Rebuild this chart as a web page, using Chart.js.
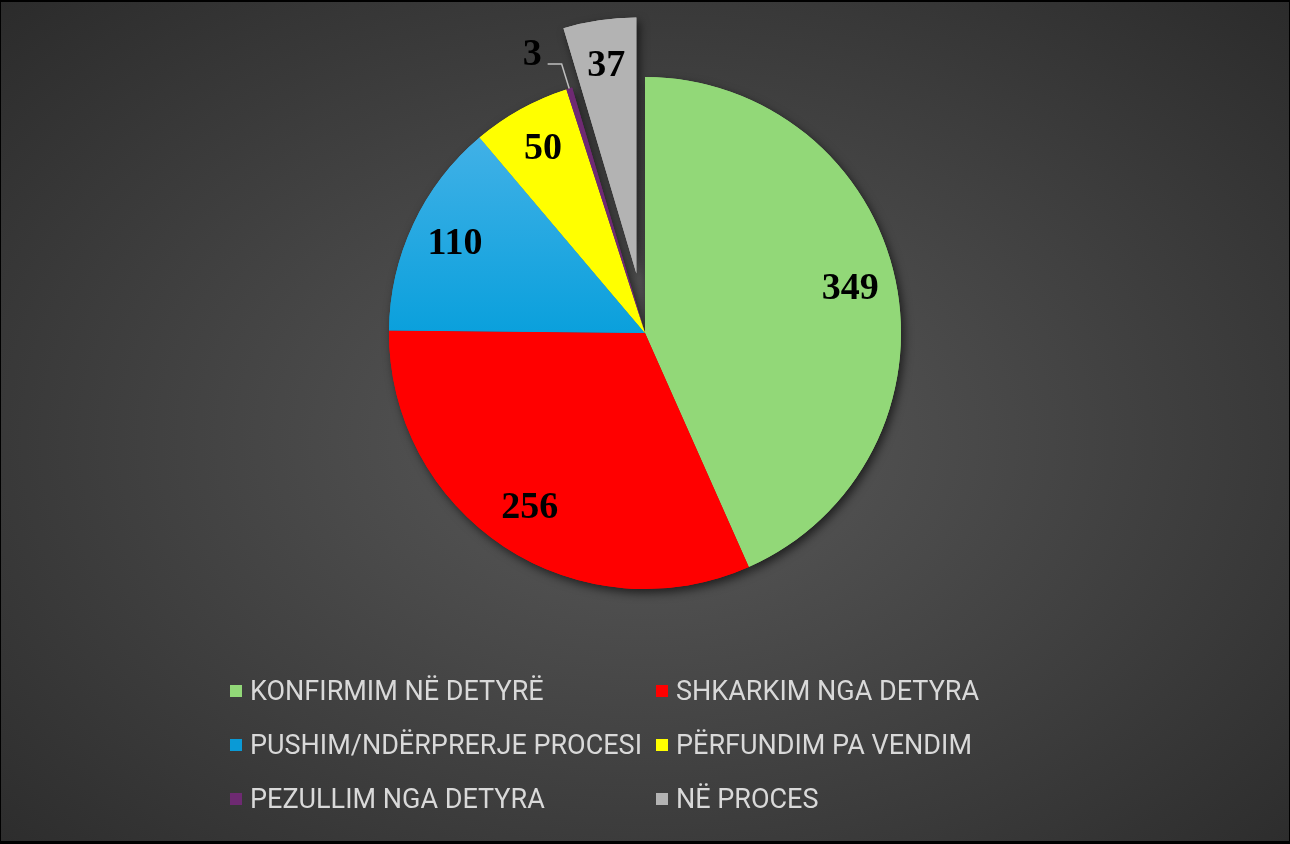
<!DOCTYPE html>
<html>
<head>
<meta charset="utf-8">
<script src="https://cdn.jsdelivr.net/npm/chart.js@4.4.1/dist/chart.umd.min.js"></script>
<style>
  html, body { margin: 0; padding: 0; }
  #frame {
    position: relative; width: 1290px; height: 844px; overflow: hidden;
    background: radial-gradient(ellipse farthest-corner at 50% 52%, #5a5a5a 0%, #2b2b2b 100%);
  }
  #chartBox { position: absolute; left: 0; top: 0; width: 1290px; height: 844px; }
  #border {
    position: absolute; left: 0; top: 0; right: 0; bottom: 0; pointer-events: none;
    border-top: 2px solid #000; border-bottom: 3px solid #000;
    border-left: 1px solid #000; border-right: 1px solid #000;
  }
  #legend {
    position: absolute; left: 230px; top: 664px;
    display: grid; grid-template-columns: 426px 360px;
  }
  .item {
    display: flex; align-items: center; height: 54px;
    font: 27px Roboto, sans-serif; color: #d9d9d9; white-space: nowrap;
  }
  .box { width: 12px; height: 12px; margin-right: 8px; flex: none; }
</style>
</head>
<body>
<div id="frame">
  <div id="chartBox"><canvas id="myChart"></canvas></div>
  <div id="legend"></div>
  <div id="border"></div>
</div>
<script>
'use strict';

// chart data
let categories = ['KONFIRMIM NË DETYRË', 'SHKARKIM NGA DETYRA', 'PUSHIM/NDËRPRERJE PROCESI',
  'PËRFUNDIM PA VENDIM', 'PEZULLIM NGA DETYRA', 'NË PROCES'];
let counts = [349, 256, 110, 50, 3, 37];

let sliceColors = ['#92d878', '#ff0000', '#0a9ad6', '#ffff00', '#6e2a72', '#b3b3b3'];
// how far (px) each slice is pulled out of the pie
let explode = [0, 0, 0, 0, 0, 60];

// blue slice has a soft vertical gradient
function sliceColor(c) {
  let i = c.dataIndex;
  if (i !== 2) return sliceColors[i];
  let area = c.chart.chartArea;
  if (!area) return sliceColors[i];
  let cy = (area.top + area.bottom) / 2;
  let g = c.chart.ctx.createLinearGradient(0, cy - 256, 0, cy + 256);
  g.addColorStop(0, '#52b6ea');
  g.addColorStop(0.5, '#0aa0dc');
  g.addColorStop(1, '#0090cc');
  return g;
}

// chart.js offset also shrinks/grows the arc, so move the centre instead
let explodeSlices = {
  id: 'explodeSlices',
  afterDatasetUpdate(chart) {
    chart.getDatasetMeta(0).data.forEach((arc, i) => {
      let d = explode[i];
      if (!d) return;
      let mid = (arc.startAngle + arc.endAngle) / 2;
      arc.x += Math.cos(mid) * d;
      arc.y += Math.sin(mid) * d;
    });
  }
};

// drop shadow under the slices
let pieShadow = {
  id: 'pieShadow',
  beforeDatasetsDraw(chart) {
    let ctx = chart.ctx;
    ctx.save();
    ctx.shadowColor = 'rgba(0,0,0,0.6)';
    ctx.shadowBlur = 10;
    ctx.shadowOffsetX = 3;
    ctx.shadowOffsetY = 4;
    chart.getDatasetMeta(0).data.forEach(a => a.draw(ctx));
    ctx.restore();
  }
};

// value labels, tiny slices get a leader line
let sliceLabels = {
  id: 'sliceLabels',
  afterDatasetsDraw(chart) {
    let ctx = chart.ctx;
    let meta = chart.getDatasetMeta(0);
    ctx.save();
    ctx.font = 'bold 38px "Liberation Serif", "Times New Roman", serif';
    ctx.fillStyle = '#000';
    ctx.textBaseline = 'middle';
    meta.data.forEach((arc, i) => {
      let p = arc.getProps(['x', 'y', 'startAngle', 'endAngle', 'outerRadius'], true);
      let mid = (p.startAngle + p.endAngle) / 2;
      let text = String(counts[i]);
      if (counts[i] < 10) {
        let x0 = p.x + Math.cos(mid) * p.outerRadius;
        let y0 = p.y + Math.sin(mid) * p.outerRadius;
        let x1 = p.x + Math.cos(mid) * p.outerRadius * 1.1;
        let y1 = p.y + Math.sin(mid) * p.outerRadius * 1.1;
        ctx.strokeStyle = '#bfbfbf';
        ctx.lineWidth = 1.5;
        ctx.beginPath();
        ctx.moveTo(x0, y0);
        ctx.lineTo(x1, y1);
        ctx.lineTo(x1 - 14, y1);
        ctx.stroke();
        ctx.textAlign = 'right';
        ctx.fillText(text, x1 - 20, y1 - 9);
      } else {
        let r = p.outerRadius * 0.82;
        ctx.textAlign = 'center';
        ctx.fillText(text, p.x + Math.cos(mid) * r, p.y + Math.sin(mid) * r);
      }
    });
    ctx.restore();
  }
};

let chartObject = {
  type: 'pie',
  data: {
    labels: categories,
    datasets: [{
      data: counts,
      backgroundColor: sliceColor,
      borderWidth: 0,
      radius: 256
    }]
  },
  options: {
    responsive: true,
    maintainAspectRatio: false,
    animation: false,
    layout: { padding: { top: 0, bottom: 178, left: 0, right: 0 } },
    plugins: {
      legend: { display: false },
      tooltip: { enabled: false }
    }
  },
  plugins: [explodeSlices, pieShadow, sliceLabels]
};

let ctx = document.getElementById('myChart').getContext('2d');
let myChart = new Chart(ctx, chartObject);

// legend in two columns
let legendBox = document.getElementById('legend');
for (let i = 0; i < categories.length; i++) {
  let item = document.createElement('div');
  item.className = 'item';
  let box = document.createElement('span');
  box.className = 'box';
  box.style.background = sliceColors[i];
  item.appendChild(box);
  item.appendChild(document.createTextNode(categories[i]));
  legendBox.appendChild(item);
}
</script>
</body>
</html>
